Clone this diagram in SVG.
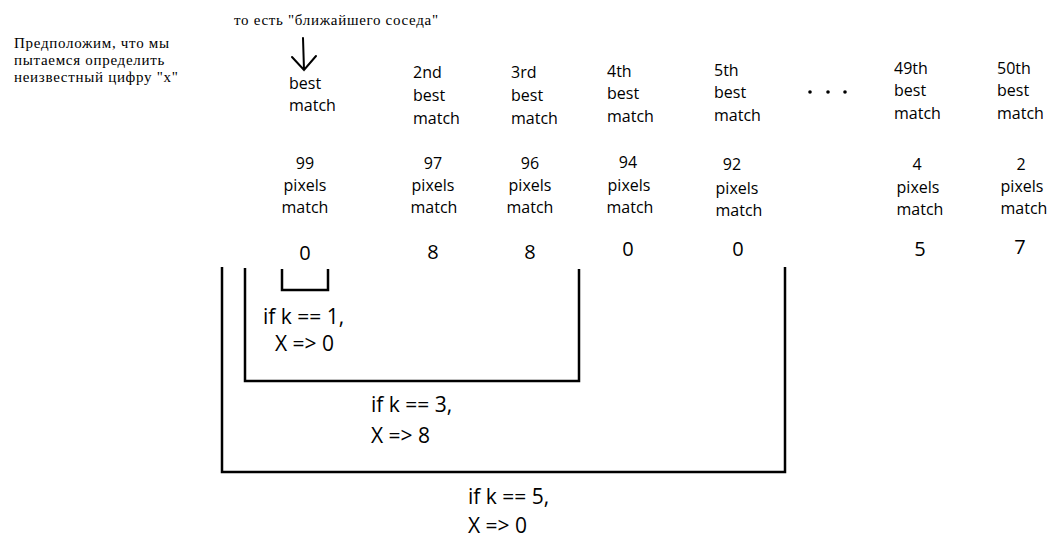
<svg xmlns="http://www.w3.org/2000/svg" width="1052" height="537" viewBox="0 0 1052 537">
<style>
.ru{font-family:"Liberation Serif","Times New Roman",serif;font-size:15px;letter-spacing:0.7px;fill:#000}
.lb{font-family:"Open Sans","Liberation Sans",sans-serif;font-size:16px;fill:#000}
.c{text-anchor:middle}
.num{font-family:"Open Sans","Liberation Sans",sans-serif;font-size:20px;fill:#000;text-anchor:middle}
.cond{font-family:"Open Sans","Liberation Sans",sans-serif;font-size:21px;fill:#000}
.ln{fill:none;stroke:#000;stroke-width:2.5}
.ar{fill:none;stroke:#000;stroke-width:2;stroke-linecap:round}
</style>
<rect width="1052" height="537" fill="#fff"/>
<g id="intro">
<text class="ru" x="14" y="47.5">Предположим, что мы</text>
<text class="ru" x="14" y="64.5">пытаемся определить</text>
<text class="ru" x="14" y="81.5">неизвестный цифру "x"</text>
</g>
<g id="note">
<text class="ru" x="234" y="24.5">то есть "ближайшего соседа"</text>
</g>
<g id="col1">
<text class="lb" x="289" y="89">best</text>
<text class="lb" x="289" y="111">match</text>
<text class="lb c" x="305" y="169">99</text>
<text class="lb c" x="305" y="191">pixels</text>
<text class="lb c" x="305" y="213">match</text>
<text class="num" x="305" y="260">0</text>
</g>
<g id="col2">
<text class="lb" x="413" y="78">2nd</text>
<text class="lb" x="413" y="101">best</text>
<text class="lb" x="413" y="124">match</text>
<text class="lb c" x="433" y="169">97</text>
<text class="lb c" x="433" y="191">pixels</text>
<text class="lb c" x="434" y="213">match</text>
<text class="num" x="433" y="259">8</text>
</g>
<g id="col3">
<text class="lb" x="511" y="78">3rd</text>
<text class="lb" x="511" y="101">best</text>
<text class="lb" x="511" y="124">match</text>
<text class="lb c" x="530" y="169">96</text>
<text class="lb c" x="530" y="191">pixels</text>
<text class="lb c" x="530" y="213">match</text>
<text class="num" x="530" y="259">8</text>
</g>
<g id="col4">
<text class="lb" x="607" y="77">4th</text>
<text class="lb" x="607" y="99">best</text>
<text class="lb" x="607" y="122">match</text>
<text class="lb c" x="628" y="168">94</text>
<text class="lb c" x="629" y="191">pixels</text>
<text class="lb c" x="630" y="213">match</text>
<text class="num" x="628" y="256">0</text>
</g>
<g id="col5">
<text class="lb" x="714" y="76">5th</text>
<text class="lb" x="714" y="98">best</text>
<text class="lb" x="714" y="121">match</text>
<text class="lb c" x="732" y="170">92</text>
<text class="lb c" x="737" y="194">pixels</text>
<text class="lb c" x="739" y="216">match</text>
<text class="num" x="738" y="256">0</text>
</g>
<g id="ellipsis">
<circle cx="810" cy="92" r="1.8"/>
<circle cx="828" cy="92" r="1.8"/>
<circle cx="845" cy="92" r="1.8"/>
</g>
<g id="col49">
<text class="lb" x="894" y="74">49th</text>
<text class="lb" x="894" y="96">best</text>
<text class="lb" x="894" y="119">match</text>
<text class="lb c" x="917" y="170">4</text>
<text class="lb c" x="918" y="193">pixels</text>
<text class="lb c" x="920" y="215">match</text>
<text class="num" x="920" y="256">5</text>
</g>
<g id="col50">
<text class="lb" x="997" y="74">50th</text>
<text class="lb" x="997" y="96">best</text>
<text class="lb" x="997" y="119">match</text>
<text class="lb c" x="1021" y="170">2</text>
<text class="lb c" x="1022" y="192">pixels</text>
<text class="lb c" x="1024" y="214">match</text>
<text class="num" x="1020" y="254">7</text>
</g>
<g id="k1">
<text class="cond" x="263" y="324">if k == 1,</text>
<text class="cond" x="275" y="351">X =&gt; 0</text>
</g>
<g id="k3">
<text class="cond" x="371" y="412">if k == 3,</text>
<text class="cond" x="371" y="443">X =&gt; 8</text>
</g>
<g id="k5">
<text class="cond" x="468" y="504">if k == 5,</text>
<text class="cond" x="468" y="533">X =&gt; 0</text>
</g>
<g id="connectors">
<path class="ar" d="M303 38 L304 70 M292 57 L304 70 L316 56"/>
<path class="ln" d="M282 269 V290 H328 V269"/>
<path class="ln" d="M245 268 V381 H579 V269"/>
<path class="ln" d="M222 267 V472 H785 V267"/>
</g>
</svg>
